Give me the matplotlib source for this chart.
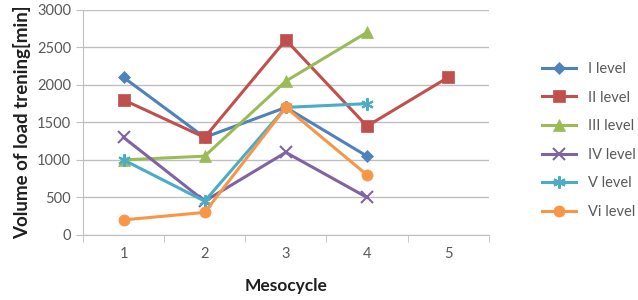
import matplotlib
matplotlib.use("Agg")
import matplotlib.pyplot as plt

plt.rcParams['font.family'] = ['Lato', 'DejaVu Sans']

categories = [1, 2, 3, 4, 5]
series_names = ["I level", "II level", "III level", "IV level", "V level", "Vi level"]
s1 = [2100, 1300, 1700, 1050]
s2 = [1800, 1300, 2600, 1450, 2100]
s3 = [1000, 1050, 2050, 2700]
s4 = [1300, 450, 1100, 500]
s5 = [1000, 450, 1700, 1750]
s6 = [200, 300, 1700, 800]
yticks = [0, 500, 1000, 1500, 2000, 2500, 3000]

colors = ["#4F81BD", "#C0504D", "#9BBB59", "#8064A2", "#4BACC6", "#F79646"]
markers = ["D", "s", "^", "x", (6, 2, 0), "o"]
msizes = [6, 8, 8, 9, 9, 8]

fig = plt.figure(figsize=(6.38, 3.0), dpi=100)
ax = fig.add_axes([0.130, 0.217, 0.636, 0.750])

for name, vals, c, m, ms in zip(series_names, [s1, s2, s3, s4, s5, s6], colors, markers, msizes):
    ax.plot(categories[:len(vals)], vals, color=c, marker=m, markersize=ms, lw=2.2,
            markeredgewidth=1.5 if m in ("x", (6, 2, 0)) else 0.5, label=name)

ax.set_xlim(0.5, 5.5)
ax.set_ylim(0, 3000)
ax.set_yticks(yticks)
ax.set_xticks(categories)
ax.set_xticks([0.5, 1.5, 2.5, 3.5, 4.5, 5.5], minor=True)
ax.yaxis.grid(True, color="#BFBFBF", lw=1)
ax.set_axisbelow(True)
for s in ["top", "right"]:
    ax.spines[s].set_visible(False)
ax.spines["left"].set_color("#BFBFBF")
ax.spines["bottom"].set_color("#BFBFBF")
ax.tick_params(axis="x", which="major", length=0, labelsize=10.5, colors="#595959", pad=9)
ax.tick_params(axis="x", which="minor", length=5, color="#BFBFBF")
ax.tick_params(axis="y", length=5, color="#BFBFBF", labelsize=10.5, labelcolor="#595959")

ax.set_ylabel("Volume of load trening[min]", fontsize=13.5, fontweight="bold", color="#1F1F1F", labelpad=4)
ax.set_xlabel("Mesocycle", fontsize=12.5, fontweight="bold", color="#1F1F1F", labelpad=12)

leg = ax.legend(loc="center left", bbox_to_anchor=(1.1, 0.42), frameon=False, fontsize=10.5,
                labelspacing=1.0, handlelength=2.3, handletextpad=0.8, labelcolor="#595959")

fig.savefig("out.png", dpi=100)
